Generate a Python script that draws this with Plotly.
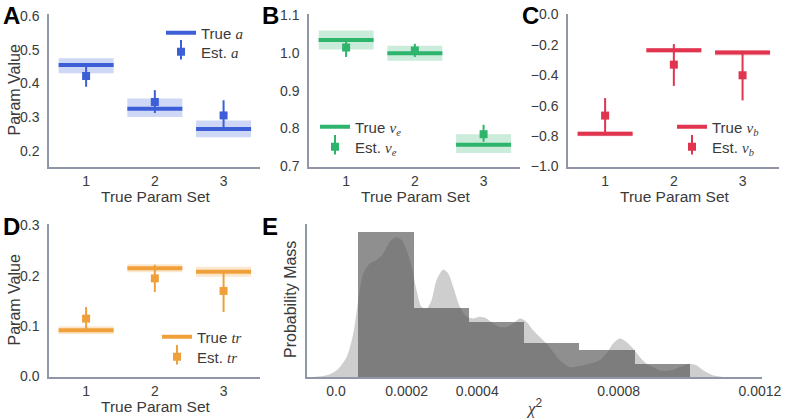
import plotly.graph_objects as go

# ---------------- data ----------------
param_sets = [1, 2, 3]

a_true = [0.455, 0.325, 0.265]
a_band_lo = [0.430, 0.300, 0.240]
a_band_hi = [0.475, 0.355, 0.290]
a_est = [0.422, 0.345, 0.305]
a_est_lo = [0.390, 0.312, 0.265]
a_est_hi = [0.455, 0.380, 0.350]

ve_true = [1.035, 1.000, 0.757]
ve_band_lo = [1.010, 0.980, 0.735]
ve_band_hi = [1.060, 1.020, 0.785]
ve_est = [1.015, 1.007, 0.785]
ve_est_lo = [0.990, 0.990, 0.765]
ve_est_hi = [1.040, 1.025, 0.810]

vb_true = [-0.785, -0.235, -0.250]
vb_band_lo = [-0.800, -0.250, -0.270]
vb_band_hi = [-0.770, -0.220, -0.235]
vb_est = [-0.665, -0.330, -0.400]
vb_est_lo = [-0.780, -0.470, -0.565]
vb_est_hi = [-0.550, -0.195, -0.240]

tr_true = [0.092, 0.215, 0.208]
tr_band_lo = [0.084, 0.207, 0.198]
tr_band_hi = [0.100, 0.223, 0.218]
tr_est = [0.115, 0.195, 0.170]
tr_est_lo = [0.090, 0.168, 0.128]
tr_est_hi = [0.138, 0.222, 0.210]

# chi-square distribution (panel E)
hist_edges = [0.0000631, 0.000221, 0.000376, 0.000533, 0.000688, 0.000846, 0.001002]
hist_heights = [4.35, 2.07, 1.64, 1.02, 0.80, 0.40]

kde_x = [-0.0000642, -0.0000264, 0.000002, 0.0000302, 0.0000490, 0.0000632, 0.0000773,
         0.0000962, 0.0001150, 0.0001339, 0.0001528, 0.0001716, 0.0001857, 0.0002000,
         0.0002141, 0.0002282, 0.0002423, 0.0002565, 0.0002706, 0.0002847, 0.0003036,
         0.0003178, 0.0003319, 0.0003508, 0.0003696, 0.0003885, 0.0004074, 0.0004262,
         0.0004451, 0.0004640, 0.0004828, 0.0005017, 0.0005205, 0.0005394, 0.0005583,
         0.0005771, 0.0005960, 0.0006149, 0.0006337, 0.0006620, 0.0006903, 0.0007186,
         0.0007469, 0.0007657, 0.0007846, 0.0008034, 0.0008223, 0.0008411, 0.0008600,
         0.0008789, 0.0008977, 0.0009166, 0.0009355, 0.0009543, 0.0009732, 0.0010015,
         0.0010203, 0.0010392, 0.0010675, 0.0010958]
kde_y = [0.0, 0.05, 0.20, 0.60, 1.30, 2.30, 3.10, 3.40, 3.50, 3.70, 4.05, 4.18, 4.10, 3.80,
         3.30, 2.60, 2.10, 2.05, 2.30, 2.90, 3.22, 3.10, 2.70, 2.10, 1.80, 1.75, 1.80, 1.75,
         1.60, 1.50, 1.50, 1.60, 1.75, 1.65, 1.40, 1.20, 1.00, 0.75, 0.50, 0.30, 0.33, 0.40,
         0.50, 0.70, 1.00, 1.15, 1.05, 0.85, 0.60, 0.40, 0.30, 0.20, 0.18, 0.22, 0.30, 0.40,
         0.35, 0.20, 0.05, 0.0]

e_tickvals = [0.0, 0.0002, 0.0004, 0.0008, 0.0012]
e_ticktext = ["0.0", "0.0002", "0.0004", "0.0008", "0.0012"]

# ---------------- styling ----------------
FONT = "Liberation Sans, Arial, sans-serif"
SPINE = "#9096a8"
TICKC = "#3a3a3a"
HALF = 0.4
W, H = 800, 418


def serif(s):
    return f'<span style="font-family:Liberation Serif,DejaVu Serif,serif">{s}</span>'


panels = [
    dict(key="", true=a_true, lo=a_band_lo, hi=a_band_hi, est=a_est, elo=a_est_lo, ehi=a_est_hi,
         color="#3c5fd8", band="rgba(60,95,216,0.25)", sym=serif("<i>a</i>"),
         yrange=[0.152, 0.606], ytick=[0.2, 0.3, 0.4, 0.5, 0.6], ytitle=True,
         dom_x=[49, 260], dom_y=[14, 167], leg_x=161, leg_y=(33, 52)),
    dict(key="2", true=ve_true, lo=ve_band_lo, hi=ve_band_hi, est=ve_est, elo=ve_est_lo, ehi=ve_est_hi,
         color="#2eb46c", band="rgba(46,180,108,0.25)", sym=serif("<i>ν<sub>e</sub></i>"),
         yrange=[0.698, 1.104], ytick=[0.7, 0.8, 0.9, 1.0, 1.1], ytitle=False,
         dom_x=[309, 520], dom_y=[14, 167], leg_x=315, leg_y=(127, 147)),
    dict(key="3", true=vb_true, lo=vb_band_lo, hi=vb_band_hi, est=vb_est, elo=vb_est_lo, ehi=vb_est_hi,
         color="#e0344f", band="rgba(224,52,79,0.25)", sym=serif("<i>ν<sub>b</sub></i>"),
         yrange=[-1.003, 0.003], ytick=[-1.0, -0.8, -0.6, -0.4, -0.2, 0.0], ytitle=False,
         dom_x=[568, 779], dom_y=[14, 167], leg_x=672, leg_y=(127, 147)),
    dict(key="4", true=tr_true, lo=tr_band_lo, hi=tr_band_hi, est=tr_est, elo=tr_est_lo, ehi=tr_est_hi,
         color="#f0a03a", band="rgba(240,160,58,0.25)", sym=serif("<i>tr</i>"),
         yrange=[-0.001, 0.303], ytick=[0.0, 0.1, 0.2, 0.3], ytitle=True,
         dom_x=[49, 260], dom_y=[224, 377], leg_x=157, leg_y=(337, 357)),
]

fig = go.Figure()
layout = {}
annotations = []
leg_count = [0]


def new_legend():
    leg_count[0] += 1
    return "legend" if leg_count[0] == 1 else f"legend{leg_count[0]}"


def txt(text, x, y, size=16, angle=0, bold=False, color=TICKC, xanchor="center"):
    annotations.append(dict(
        text=f"<b>{text}</b>" if bold else text, x=x / W, y=1 - y / H,
        xref="paper", yref="paper", xanchor=xanchor, yanchor="middle",
        showarrow=False, textangle=angle, font=dict(family=FONT, size=size, color=color)))


def place_legend(name, x, y):
    layout[name] = dict(
        x=x / W, y=1 - y / H, xanchor="left", yanchor="middle",
        bgcolor="rgba(0,0,0,0)", font=dict(family=FONT, size=15, color=TICKC),
        itemwidth=30, borderwidth=0)


for p in panels:
    xa = "x" + p["key"]
    ya = "y" + p["key"]
    leg_true, leg_est, leg_bar = new_legend(), new_legend(), new_legend()
    for s, lo, hi in zip(param_sets, p["lo"], p["hi"]):
        fig.add_trace(go.Scatter(
            x=[s - HALF, s + HALF, s + HALF, s - HALF, s - HALF],
            y=[lo, lo, hi, hi, lo], fill="toself", fillcolor=p["band"],
            line=dict(width=0), mode="lines", showlegend=False, hoverinfo="skip",
            xaxis=xa, yaxis=ya))
    for i, (s, t) in enumerate(zip(param_sets, p["true"])):
        fig.add_trace(go.Scatter(
            x=[s - HALF, s + HALF], y=[t, t], mode="lines",
            line=dict(color=p["color"], width=4),
            name=f"True {p['sym']}", legendgroup="true" + p["key"],
            showlegend=(i == 0), legend=leg_true, xaxis=xa, yaxis=ya))
    fig.add_trace(go.Scatter(
        x=param_sets, y=p["est"], mode="markers",
        marker=dict(symbol="square", size=8, color=p["color"]),
        error_y=dict(type="data", symmetric=False,
                     array=[h - e for h, e in zip(p["ehi"], p["est"])],
                     arrayminus=[e - l for e, l in zip(p["est"], p["elo"])],
                     color=p["color"], thickness=2, width=0),
        name=f"Est. {p['sym']}", showlegend=True, legend=leg_est,
        xaxis=xa, yaxis=ya))
    # legend glyph for the error bar through the estimate marker
    fig.add_trace(go.Scatter(
        x=[None], y=[None], mode="markers", name=" ",
        marker=dict(symbol="line-ns-open", size=14, color=p["color"],
                    line=dict(width=2, color=p["color"])),
        showlegend=True, legend=leg_bar, hoverinfo="skip", xaxis=xa, yaxis=ya))

    x0, x1 = p["dom_x"]
    y0, y1 = p["dom_y"]
    layout["xaxis" + p["key"]] = dict(
        domain=[x0 / W, x1 / W], anchor=ya, range=[0.46, 3.53], tickvals=param_sets,
        ticktext=[str(v) for v in param_sets], showgrid=False, zeroline=False,
        showline=True, linecolor=SPINE, linewidth=1.5, ticks="",
        tickfont=dict(family=FONT, size=14, color=TICKC))
    layout["yaxis" + p["key"]] = dict(
        domain=[1 - y1 / H, 1 - y0 / H], anchor=xa, range=p["yrange"], tickvals=p["ytick"],
        tickformat=".1f", showgrid=False, zeroline=False, showline=True, linecolor=SPINE,
        linewidth=1.5, ticks="", ticklabelstandoff=5,
        tickfont=dict(family=FONT, size=14, color=TICKC))
    place_legend(leg_true, p["leg_x"], p["leg_y"][0])
    place_legend(leg_est, p["leg_x"], p["leg_y"][1])
    place_legend(leg_bar, p["leg_x"], p["leg_y"][1] - 2)
    txt("True Param Set", (x0 + x1) / 2 + 1, y1 + 29, size=15.5)
    if p["ytitle"]:
        txt("Param Value", 14, (y0 + y1) / 2, angle=-90)

# panel E
fig.add_trace(go.Scatter(
    x=kde_x, y=kde_y, mode="lines", line=dict(width=0, shape="spline", smoothing=0.8),
    fill="tozeroy", fillcolor="rgba(80,80,80,0.28)", showlegend=False,
    xaxis="x5", yaxis="y5"))
fig.add_trace(go.Bar(
    x=hist_edges[:-1], y=hist_heights,
    width=[b - a for a, b in zip(hist_edges[:-1], hist_edges[1:])], offset=0,
    marker=dict(color="rgba(80,80,80,0.64)", line=dict(width=0)),
    showlegend=False, xaxis="x5", yaxis="y5"))

layout["xaxis5"] = dict(
    domain=[307 / W, 762 / W], anchor="y5", range=[-0.000082, 0.001206],
    tickvals=e_tickvals, ticktext=e_ticktext, showgrid=False, zeroline=False,
    showline=True, linecolor=SPINE, linewidth=1.5, ticks="",
    tickfont=dict(family=FONT, size=14, color=TICKC))
layout["yaxis5"] = dict(
    domain=[1 - 377 / H, 1 - 224 / H], anchor="x5", range=[0, 4.58], showticklabels=False,
    showgrid=False, zeroline=False, showline=True, linecolor=SPINE, linewidth=1.5, ticks="")
txt("Probability Mass", 290, 300, angle=-90)
txt(serif("<i>χ</i>") + "<sup>2</sup>", 534, 407, size=17)

for t, x, y in [("A", 1, 16), ("B", 260, 16), ("C", 520, 16), ("D", 1, 226), ("E", 260, 226)]:
    txt(t, x, y, size=24, bold=True, color="#000000", xanchor="left")

fig.update_layout(
    width=W, height=H, margin=dict(l=0, r=0, t=0, b=0, autoexpand=False),
    paper_bgcolor="white", plot_bgcolor="white", bargap=0,
    annotations=annotations, **layout)

fig.write_html("out.html", config={"displayModeBar": False},
               post_script="document.body.style.margin='0';")
